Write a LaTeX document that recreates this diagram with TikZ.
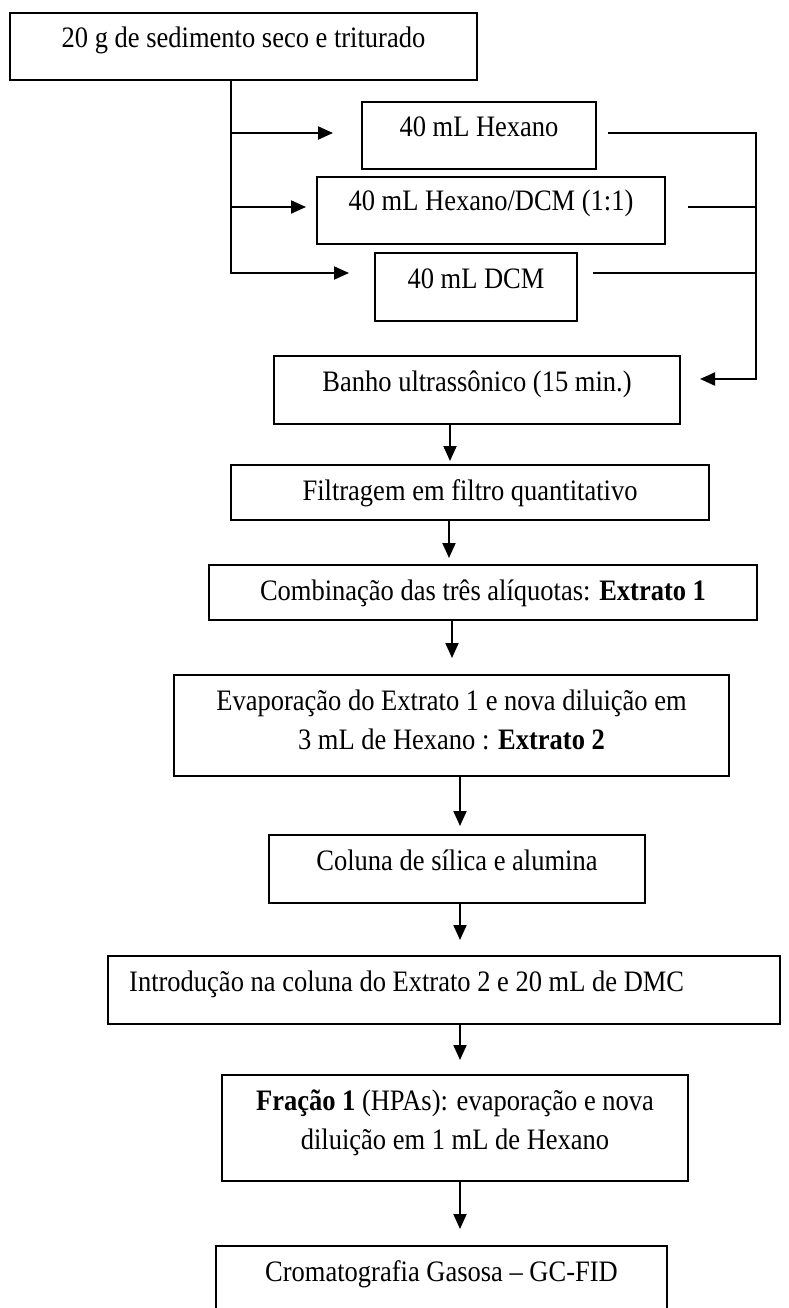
\documentclass[tikz,border=0pt]{standalone}
\usepackage{fontspec}
\setmainfont{Liberation Serif}
\usetikzlibrary{arrows.meta}
\newcommand{\tall}[1]{\scalebox{1}[1.12]{#1}}
\begin{document}
\begin{tikzpicture}[x=1pt,y=-1pt,
  box/.style={draw,line width=2pt,inner sep=0pt,outer sep=0pt,anchor=north west},
  lbl/.style={anchor=base,inner sep=0pt,font=\fontsize{26.5pt}{39.6pt}\selectfont},
  conn/.style={line width=2pt},
  arr/.style={conn,-{Triangle[length=15pt,width=13pt]}}]
\useasboundingbox (0,0) rectangle (789,1308);
\clip (0,0) rectangle (789,1308);
\fill[white] (0,0) rectangle (789,1308);

% boxes
\node[box,minimum width=467pt,minimum height=67pt] (b1) at (10,13) {};
\node[box,minimum width=234pt,minimum height=67pt] (hex) at (362,102) {};
\node[box,minimum width=348pt,minimum height=67pt] (hd) at (317,177) {};
\node[box,minimum width=202pt,minimum height=68pt] (dcm) at (375,253) {};
\node[box,minimum width=406pt,minimum height=68pt] (banho) at (274,356) {};
\node[box,minimum width=478pt,minimum height=55pt] (filt) at (231,465) {};
\node[box,minimum width=548pt,minimum height=55pt] (comb) at (209,565) {};
\node[box,minimum width=555pt,minimum height=101pt] (evap) at (174,675) {};
\node[box,minimum width=376pt,minimum height=68pt] (col) at (269,835) {};
\node[box,minimum width=672pt,minimum height=68pt] (intro) at (108,956) {};
\node[box,minimum width=466pt,minimum height=106pt] (frac) at (222,1075) {};
\node[box,minimum width=451pt,minimum height=100pt] (crom) at (216,1246) {};

% texts
\node[lbl] (t1) at ([yshift=-35pt]b1.north) {\tall{20 g de sedimento seco e triturado}};
\node[lbl] (t2) at ([yshift=-35pt]hex.north) {\tall{40 mL Hexano}};
\node[lbl] (t3) at ([yshift=-34pt]hd.north) {\tall{40 mL Hexano/DCM (1:1)}};
\node[lbl] (t4) at ([yshift=-35pt]dcm.north) {\tall{40 mL DCM}};
\node[lbl] (t5) at ([yshift=-35pt]banho.north) {\tall{Banho ultrassônico (15 min.)}};
\node[lbl] (t6) at ([yshift=-35pt]filt.north) {\tall{Filtragem em filtro quantitativo}};
\node[lbl] (t7) at ([yshift=-35pt]comb.north) {\tall{Combinação das três alíquotas: \textbf{Extrato 1}}};
\node[lbl] (t8a) at ([yshift=-35pt]evap.north) {\tall{Evaporação do Extrato 1 e nova diluição em}};
\node[lbl] (t8b) at ([yshift=-74pt]evap.north) {\tall{3 mL de Hexano : \textbf{Extrato 2}}};
\node[lbl] (t9) at ([yshift=-35pt]col.north) {\tall{Coluna de sílica e alumina}};
\node[lbl,anchor=base west] (t10) at ([xshift=21pt,yshift=-35pt]intro.north west) {\tall{Introdução na coluna do Extrato 2 e 20 mL de DMC}};
\node[lbl] (t11a) at ([yshift=-35pt]frac.north) {\tall{\textbf{Fração 1} (HPAs): evaporação e nova}};
\node[lbl] (t11b) at ([yshift=-74pt]frac.north) {\tall{diluição em 1 mL de Hexano}};
\node[lbl] (t12) at ([yshift=-35pt]crom.north) {\tall{Cromatografia Gasosa – GC-FID}};

% left distribution
\coordinate (tr) at (231,80);
\coordinate (j1) at (231,133);
\coordinate (j2) at (231,207);
\coordinate (j3) at (231,273);
\coordinate (a1) at (333,133);
\coordinate (a2) at (306,207);
\coordinate (a3) at (349,273);
\draw[arr] (tr) -- (j3) -- (a3);
\draw[arr] (j1) -- (a1);
\draw[arr] (j2) -- (a2);

% right collection
\coordinate (r1) at (608,133);
\coordinate (r2) at (688,207);
\coordinate (r3) at (593,273);
\coordinate (r1e) at (756,133);
\coordinate (r2e) at (756,207);
\coordinate (r3e) at (756,273);
\coordinate (rb) at (756,379);
\coordinate (ab) at (700,379);
\draw[conn] (r2) -- (r2e);
\draw[conn] (r3) -- (r3e);
\draw[arr] (r1) -- (r1e) -- (rb) -- (ab);

% vertical flow
\draw[arr] ([xshift=-27pt]banho.south) -- ++(0,37);
\draw[arr] ([xshift=-21pt]filt.south) -- ++(0,38);
\draw[arr] ([xshift=-31pt]comb.south) -- ++(0,38);
\draw[arr] ([xshift=8.5pt]evap.south) -- ++(0,50);
\draw[arr] ([xshift=3pt]col.south) -- ++(0,37);
\draw[arr] ([xshift=16pt]intro.south) -- ++(0,36);
\draw[arr] ([xshift=5pt]frac.south) -- ++(0,48);
\end{tikzpicture}
\end{document}
